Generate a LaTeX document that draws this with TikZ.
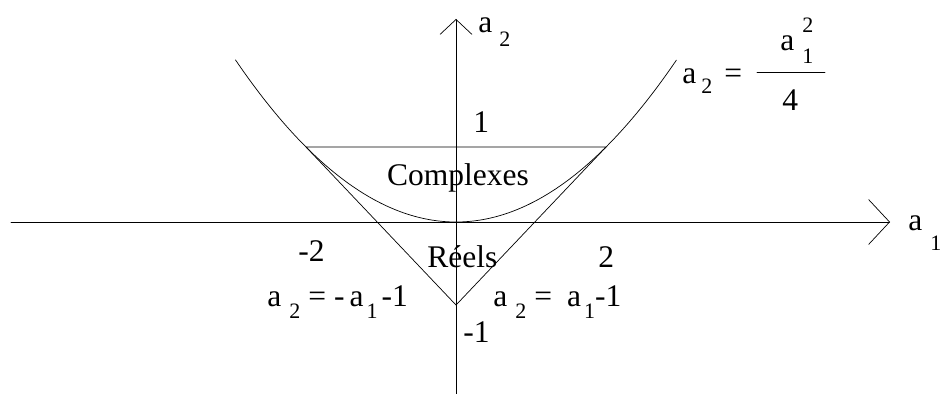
\documentclass[tikz,border=0pt]{standalone}
\usepackage{fontspec}
\setmainfont{Liberation Serif}
\usetikzlibrary{arrows.meta}
\newcommand{\labfont}{\fontsize{31.5}{36}\selectfont}
\newcommand{\idxfont}{\fontsize{22}{26}\selectfont}
% index: gap, shift, digit
\newcommand{\lo}[3]{\hspace{#1}\raisebox{#2}{\idxfont #3}}
\begin{document}
\begin{tikzpicture}[line join=round, line cap=round, x=75pt, y=75pt, line width=0.7pt,
	lbl/.style={inner sep=0pt, anchor=base west, font=\labfont}]
	\useasboundingbox (-6.08,-2.293) rectangle (6.453,2.96);
	\path
	(0,0) coordinate (O)
	(-5.933,0) coordinate (X0)
	(5.787,0) coordinate (X1)
	(0,-2.293) coordinate (Y0)
	(0,2.707) coordinate (Y1)
	(-2,1) coordinate (A)
	(2,1) coordinate (B)
	(0,-1.107) coordinate (C)
	(4.013,2) coordinate (F1)
	(4.92,2) coordinate (F2)
	;
	\draw[-{Straight Barb[length=21pt,width=45pt]}] (X0)--(X1);
	\draw[-{Straight Barb[length=15pt,width=32pt]}] (Y0)--(Y1);
	\draw (A)--(B)--(C)--cycle;
	\draw[domain=-2.94:2.94, samples=80, smooth] plot (\x,{\x*\x/4});
	\draw (F1)--(F2);
	
	\node[lbl] (ya) at (0.293,2.52) {a\lo{7pt}{-14pt}{2}};
	\node[lbl] (xa) at (6.027,-0.107) {a\lo{8pt}{-20pt}{1}};
	\node[lbl] (one) at (0.227,1.187) {1};
	\node[lbl] (mone) at (0.093,-1.613) {-1};
	\node[lbl] (two) at (1.893,-0.6) {2};
	\node[lbl] (mtwo) at (-2.107,-0.52) {-2};
	\node[lbl,anchor=base] (cx) at (0.027,0.493) {Complexes};
	\node[lbl] (re) at (-0.387,-0.6) {Réels};
	\node[lbl] (eqL) at (-2.52,-1.12) {a\lo{8pt}{-12pt}{2}\hspace{8pt}=\hspace{8pt}-\hspace{5pt}a\lo{3pt}{-12pt}{1}\hspace{4pt}-1};
	\node[lbl] (eqR) at (0.493,-1.12) {a\lo{8pt}{-12pt}{2}\hspace{8pt}=\hspace{15pt}a\lo{3pt}{-12pt}{1}-1};
	\node[lbl] (eqP) at (3.013,1.853) {a\lo{5pt}{-10pt}{2}\hspace{12pt}=};
	\node[lbl] (num) at (4.32,2.293) {a\hspace{8pt}\rlap{\raisebox{18pt}{\idxfont 2}}\raisebox{-13pt}{\idxfont 1}};
	\node[lbl] (den) at (4.347,1.493) {4};
\end{tikzpicture}
\end{document}
